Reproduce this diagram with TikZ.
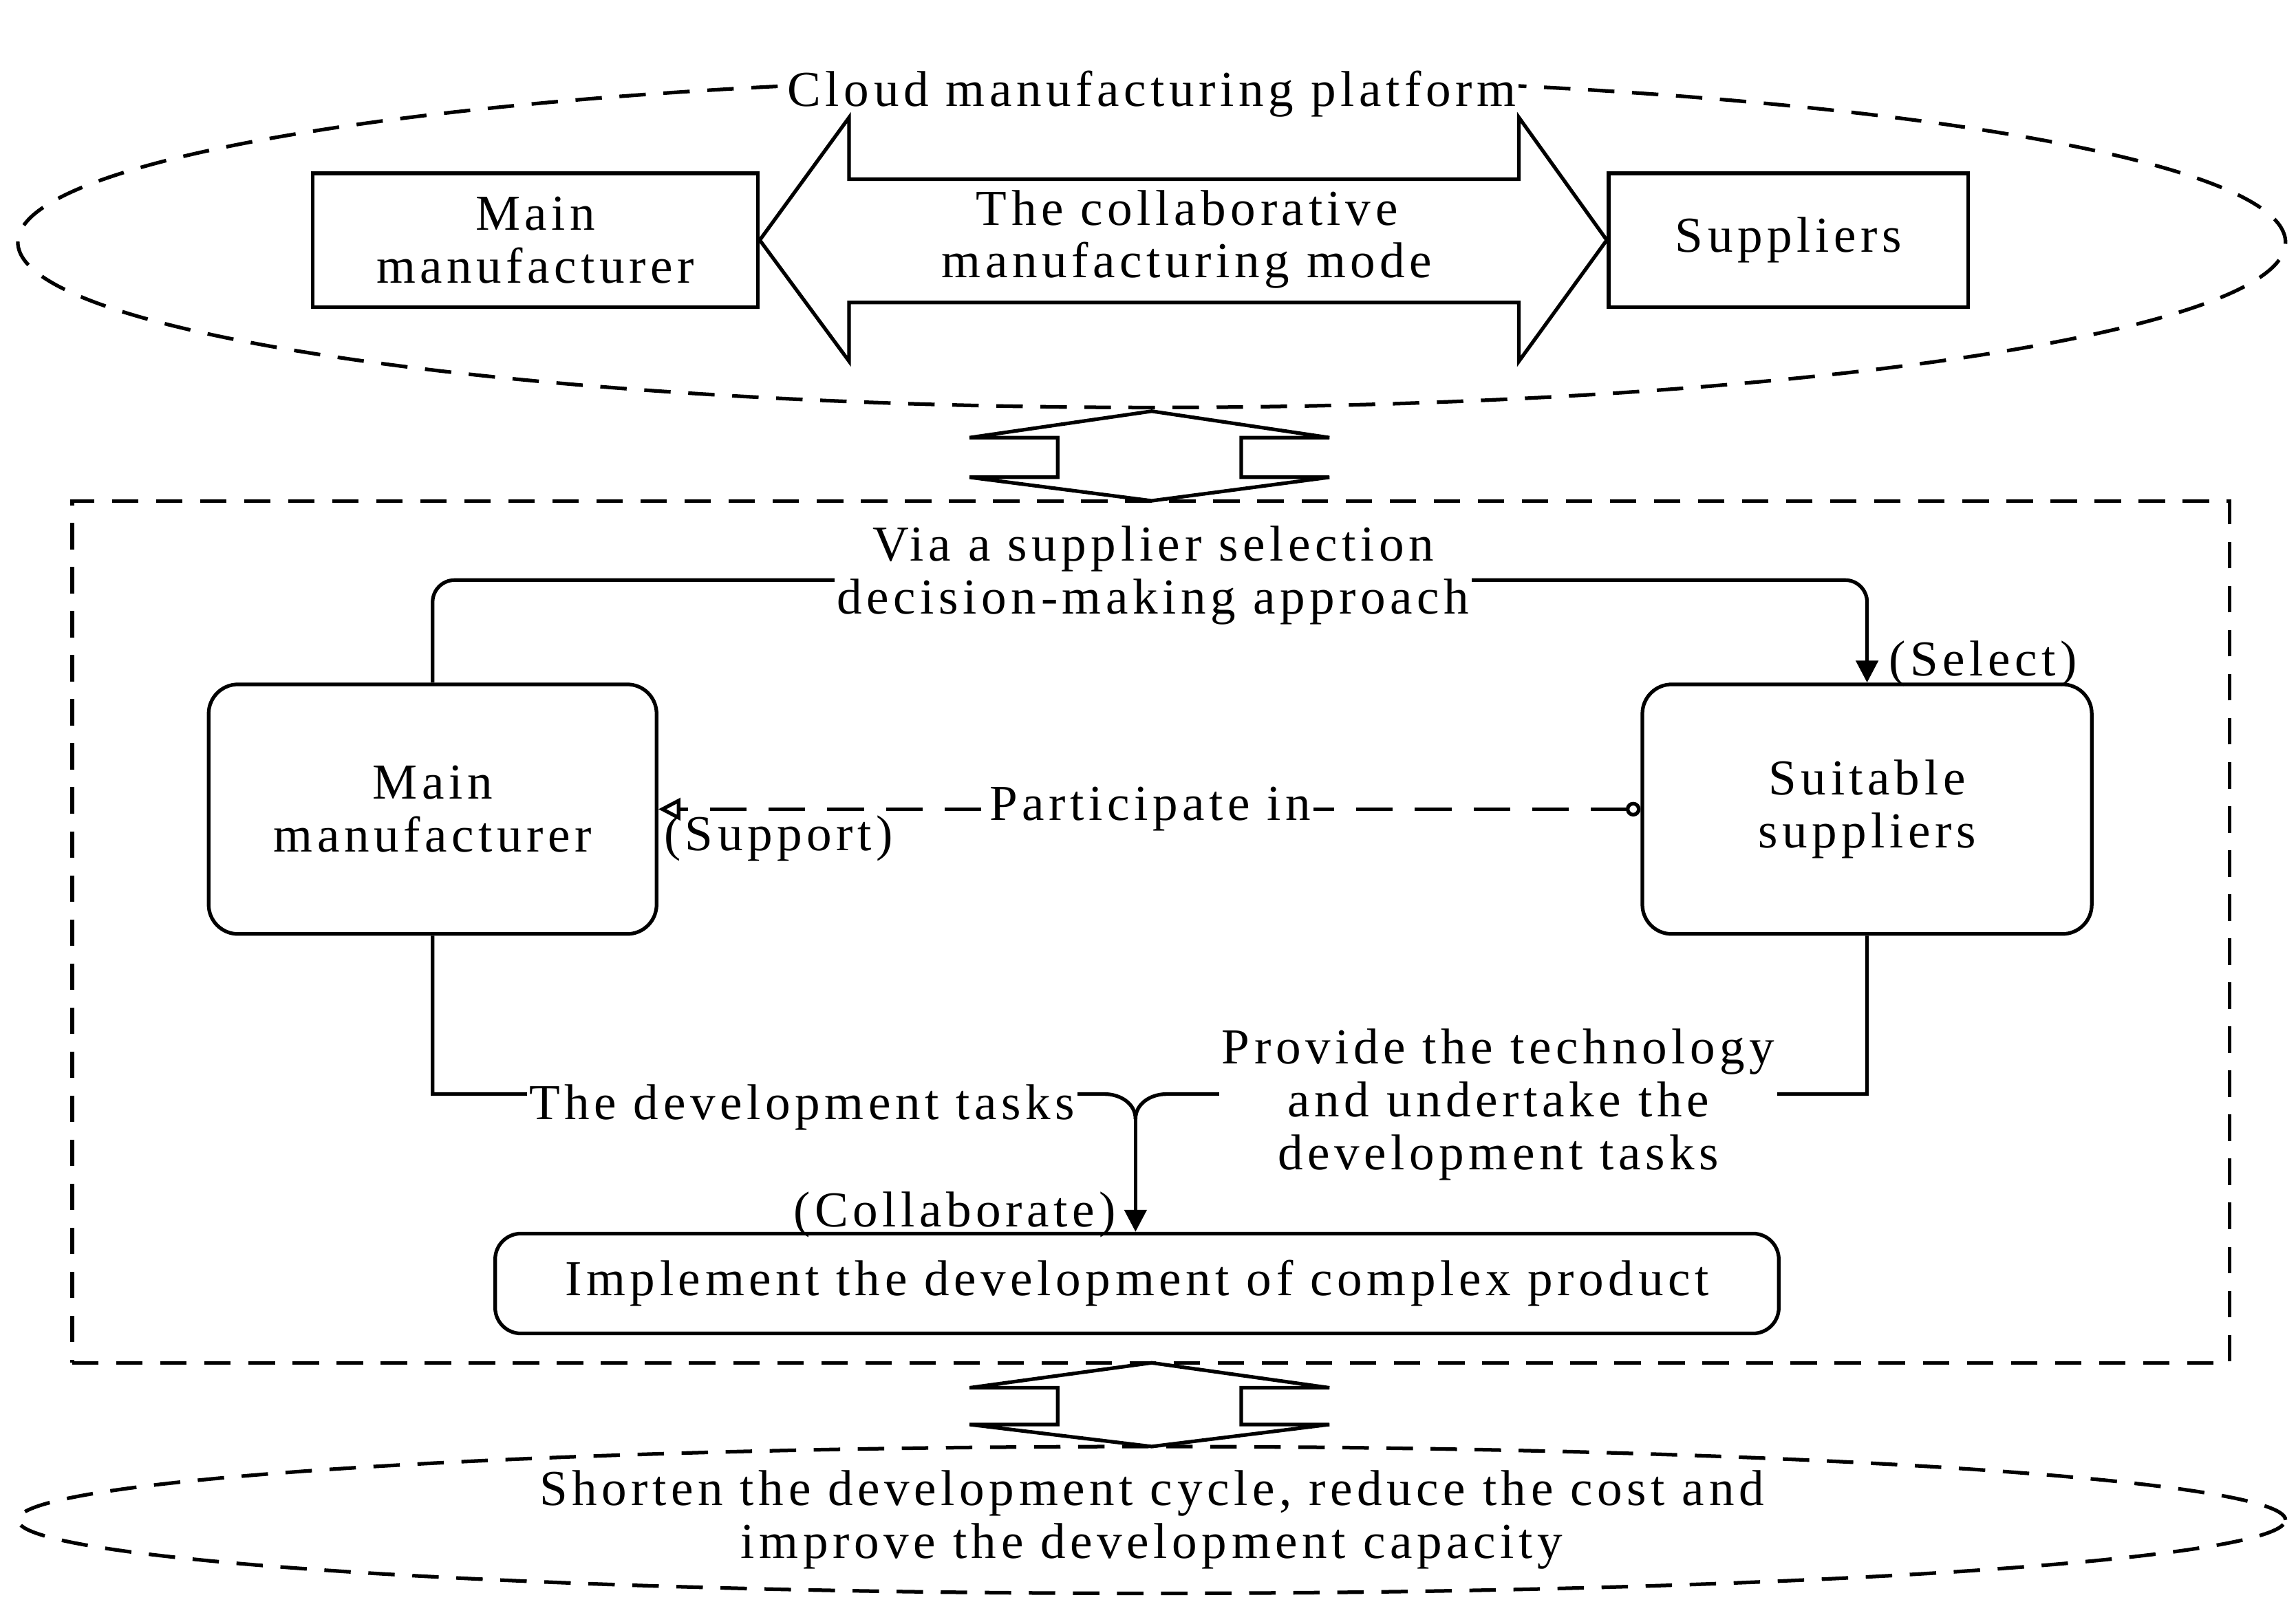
\documentclass[tikz,border=0pt]{standalone}
\usepackage{fontspec}
\setmainfont{Liberation Serif}[LetterSpace=9]
\usetikzlibrary{shapes.geometric, arrows.meta, positioning, calc}

\begin{document}
\begin{tikzpicture}[
    x=0.02cm, y=-0.02cm,
    font=\fontsize{19.5}{20.5}\selectfont,
    >=Triangle,
    line width=1.4pt,
    % Node Styles
    box/.style={draw, align=center, inner sep=0pt},
    rbox/.style={box, rounded corners=0.4cm},
    cloud/.style={draw, dash pattern=on 0.36cm off 0.24cm, ellipse, inner sep=0pt},
    lbl/.style={fill=white, inner sep=1pt, align=center},
    note/.style={inner sep=0pt, align=center},
    conn/.style={-{Triangle[length=0.3cm, width=0.3cm]}, rounded corners=0.3cm},
    fatarrow/.style={line width=1.4pt, line join=miter}
]
\useasboundingbox (0,0) rectangle (1563,1098);

% --- CLOUD PLATFORM ---
\node[cloud, minimum width=30.88cm, minimum height=4.5cm] (platform) at (784,165) {};
\node[lbl] (platformLbl) at (784,64) {Cloud manufacturing platform};
\node[box, minimum width=6.06cm, minimum height=1.82cm] (mainTop) at (364.5,163.5) {Main\\manufacturer};
\node[box, minimum width=4.9cm, minimum height=1.82cm] (suppTop) at (1217.5,163.5) {Suppliers};

% double arrow between the two boxes
\draw[fatarrow] (mainTop.east) -- (578,80) -- (578,122) -- (1034,122) -- (1034,80)
    -- (suppTop.west) -- (1034,246) -- (1034,206) -- (578,206) -- (578,246) -- cycle;
\node[note] (modeLbl) at (808,163) {The collaborative\\manufacturing mode};

% --- LINK ARROW 1 ---
\draw[fatarrow] (660,298) -- (784,280) -- (905,298) -- (845,298) -- (845,325) -- (905,325)
    -- (784,341) -- (660,325) -- (720,325) -- (720,298) -- cycle;

% --- COLLABORATION FRAME ---
\node[draw, dash pattern=on 0.36cm off 0.24cm, minimum width=29.38cm, minimum height=11.74cm] (frame) at (783.5,634.5) {};

\node[rbox, minimum width=6.1cm, minimum height=3.4cm] (mainMan) at (294.5,551) {Main\\manufacturer};
\node[rbox, minimum width=6.12cm, minimum height=3.4cm] (suitSupp) at (1271,551) {Suitable\\suppliers};
\node[rbox, rounded corners=0.35cm, minimum width=17.48cm, minimum height=1.36cm] (implement) at (774,874) {Implement the development of complex product};

% select
\draw[conn] (mainMan.north) |- (783,395) -| (suitSupp.north);
\node[lbl] (viaLbl) at (785,392) {Via a supplier selection\\decision-making approach};
\node[note] (selectLbl) at (1350,452) {(Select)};

% participate
\draw[dash pattern=on 0.5cm off 0.3cm, {Circle[open, length=0.2cm]}-{Triangle[open, length=0.3cm, width=0.3cm]}] (suitSupp.west) -- (mainMan.east);
\node[lbl] (partLbl) at (783,551) {Participate in};
\node[note] (supportLbl) at (530,571) {(Support)};

% collaborate
\coordinate (join) at (773,762);
\draw (mainMan.south) |- (752,745) to[out=0, in=90] (join);
\draw (suitSupp.south) |- (794,745) to[out=180, in=90] (join);
\draw[-{Triangle[length=0.3cm, width=0.3cm]}] (join) -- (join |- implement.north);
\node[lbl] (taskLbl) at (546,754) {The development tasks};
\node[lbl] (provideLbl) at (1020,752) {Provide the technology\\and undertake the\\development tasks};
\node[note] (collabLbl) at (650,827) {(Collaborate)};

% --- LINK ARROW 2 ---
\draw[fatarrow] (660,945) -- (784,928) -- (905,945) -- (845,945) -- (845,970) -- (905,970)
    -- (784,985) -- (660,970) -- (720,970) -- (720,945) -- cycle;

% --- OUTCOME ---
\node[cloud, minimum width=30.88cm, minimum height=2.0cm] (outcome) at (784,1035) {};
\node[note] (outcomeLbl) at (784,1035) {Shorten the development cycle, reduce the cost and\\improve the development capacity};

\end{tikzpicture}
\end{document}
